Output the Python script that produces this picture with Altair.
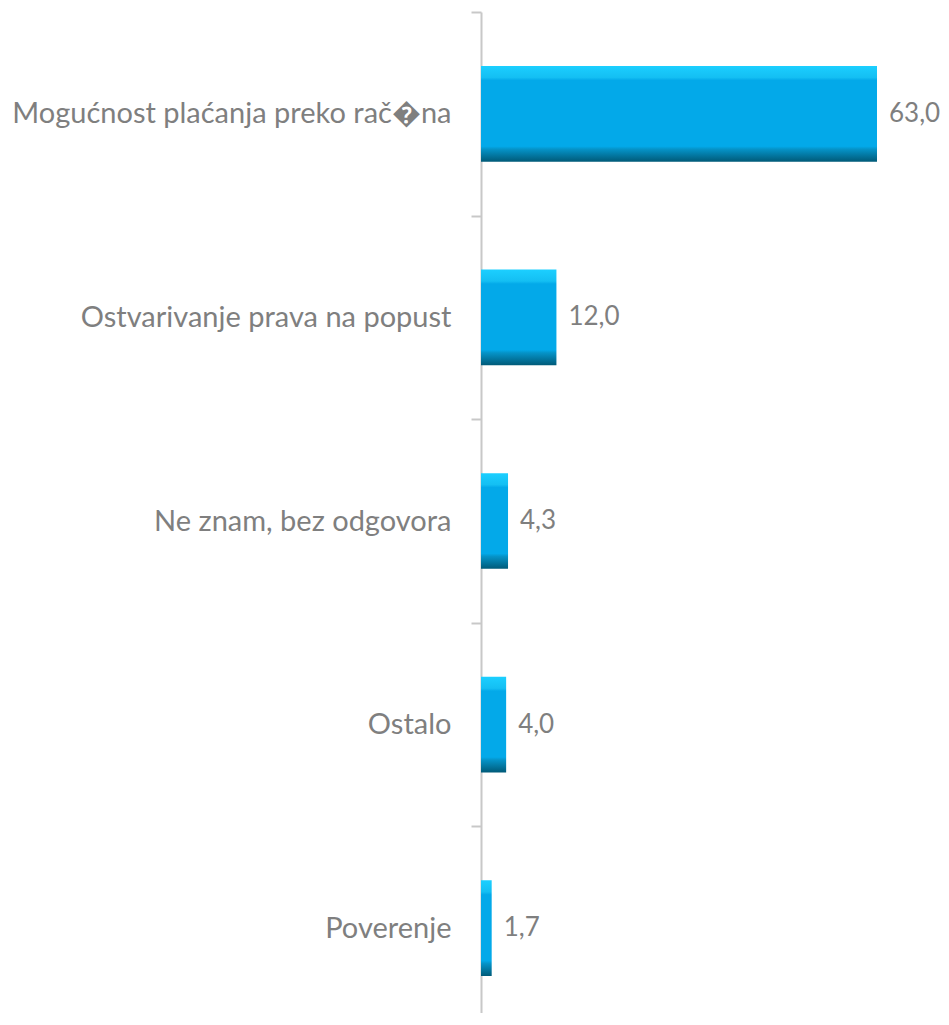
import altair as alt
import pandas as pd

categories = [
    "Mogućnost plaćanja preko rač\ufffdna",
    "Ostvarivanje prava na popust",
    "Ne znam, bez odgovora",
    "Ostalo",
    "Poverenje",
]
values = [63.0, 12.0, 4.3, 4.0, 1.7]

df = pd.DataFrame({"category": categories, "value": values})

FONT = "Lato"
GRAY = "#7f7f7f"

bevel = alt.Gradient(
    gradient="linear",
    x1=0, y1=0, x2=0, y2=1,
    stops=[
        alt.GradientStop(offset=0.0, color="#1ccfff"),
        alt.GradientStop(offset=0.12, color="#14bff3"),
        alt.GradientStop(offset=0.15, color="#03a9e9"),
        alt.GradientStop(offset=0.84, color="#03a9e9"),
        alt.GradientStop(offset=0.87, color="#0593c8"),
        alt.GradientStop(offset=1.0, color="#005a78"),
    ],
)

y_enc = alt.Y(
    "category:N",
    sort=categories,
    title=None,
    scale=alt.Scale(paddingInner=0, paddingOuter=0, range=[0, 1018]),
    axis=alt.Axis(
        tickBand="extent",
        domainColor="#c8c8c8",
        domainWidth=2,
        tickColor="#c8c8c8",
        tickWidth=2,
        tickSize=10,
        labelPadding=20,
        labelFont=FONT,
        labelFontSize=29,
        labelColor=GRAY,
        labelLimit=600,
        grid=False,
    ),
)
x_enc = alt.X("value:Q", axis=None, scale=alt.Scale(domain=[0, 70]))

bars = alt.Chart(df).mark_bar(
    color=bevel, height=alt.RelativeBandSize(0.47)
).encode(x=x_enc, y=y_enc)

labels = (
    alt.Chart(df)
    .transform_calculate(label="replace(format(datum.value, '.1f'), '.', ',')")
    .mark_text(align="left", baseline="middle", dx=12, font=FONT, fontSize=26, color=GRAY)
    .encode(x=x_enc, y=y_enc, text="label:N")
)

chart = (
    alt.layer(bars, labels)
    .properties(
        width=440,
        height=1001,
        autosize=alt.AutoSizeParams(type="none"),
        padding={"left": 473, "top": 4, "right": 20, "bottom": 0},
    )
    .configure_view(stroke=None)
)

chart.save("out.html", embed_options={"renderer": "svg", "actions": False})
